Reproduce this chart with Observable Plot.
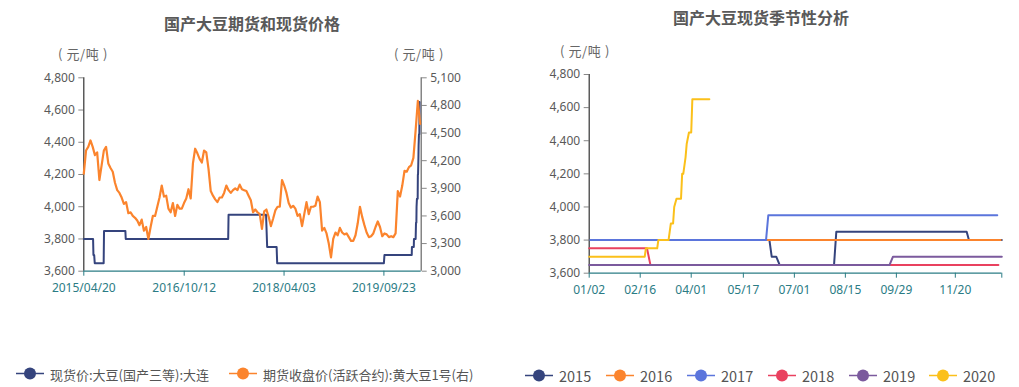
<!DOCTYPE html>
<html>
<head>
<meta charset="utf-8">
<script src="https://cdn.jsdelivr.net/npm/d3@7"></script>
<script src="https://cdn.jsdelivr.net/npm/@observablehq/plot@0.6"></script>
<style>
  body { margin: 0; background: #fff; }
  #wrap { position: relative; width: 1019px; height: 387px; overflow: hidden;
          font-family: "Noto Sans CJK SC", "Noto Sans", sans-serif; color: #595959; }
  .abs { position: absolute; white-space: nowrap; }
  .title { font-size: 16px; font-weight: bold; color: #595959; transform: translate(-50%, -50%); }
  .unit { font-size: 13px; color: #666; letter-spacing: 0.6px; transform: translateY(-50%); }
  .leg { display: flex; align-items: center; transform: translateY(-50%); color: #555; }
  .leg svg { margin-right: 6px; }
</style>
</head>
<body>
<div id="wrap"></div>
<script>
// ---------------- DATA ----------------
const leftTitle = "国产大豆期货和现货价格";
const rightTitle = "国产大豆现货季节性分析";
const unitText = "( 元/吨 )";
const spotName = "现货价:大豆(国产三等):大连";
const futuresName = "期货收盘价(活跃合约):黄大豆1号(右)";

// futures close (right axis), one reading every 12 days from 2015-04-20
const futuresStart = "2015-04-20";
const futuresStepDays = 12;
const futuresValues = [
  4060,4310,4350,4420,4350,4260,4290,3990,4150,4310,
  4350,4170,4120,4080,3960,3880,3850,3800,3730,3750,
  3630,3640,3600,3580,3550,3500,3560,3440,3480,3350,
  3480,3600,3600,3700,3800,3930,3810,3820,3680,3640,
  3740,3600,3720,3680,3680,3740,3790,3890,3790,4170,
  4330,4280,4220,4180,4310,4290,4110,3870,3820,3780,
  3750,3800,3800,3850,3930,3880,3850,3880,3900,3880,
  3940,3890,3880,3870,3820,3770,3640,3670,3640,3620,
  3460,3650,3670,3590,3490,3570,3660,3700,3700,3990,
  3930,3850,3740,3690,3710,3680,3600,3620,3490,3620,
  3750,3620,3700,3700,3710,3810,3750,3440,3470,3410,
  3300,3150,3350,3420,3390,3470,3420,3400,3410,3370,
  3330,3330,3390,3520,3700,3590,3500,3420,3370,3380,
  3410,3480,3540,3480,3380,3410,3400,3370,3380,3370,
  3410,3870,3810,3930,4090,4080,4130,4150,4230,4530,
  4850,4600
];

// spot price by year: [month-day, value]
const years = [2015, 2016, 2017, 2018, 2019, 2020];
const spot2015 = [["04-20",3800],["06-09",3800],["06-11",3700],["06-15",3700],["06-18",3650],["08-05",3650],["08-07",3850],["11-30",3850],["12-02",3800],["12-31",3800]];
const spot2016 = [["01-04",3800],["12-30",3800]];
const spot2017 = [["01-03",3800],["06-06",3800],["06-08",3950],["12-27",3950]];
const spot2018 = [["01-02",3750],["02-22",3750],["02-25",3650],["12-28",3650]];
const spot2019 = [["01-02",3650],["09-23",3650],["09-26",3700],["12-31",3700]];
const spot2020 = [["01-02",3700],["02-20",3700],["02-21",3750],["03-02",3750],["03-03",3800],["03-12",3800],["03-13",3850],["03-14",3900],["03-16",3900],["03-17",4000],["03-19",4050],["03-23",4050],["03-24",4200],["03-25",4200],["03-27",4300],["03-28",4380],["03-30",4450],["04-01",4450],["04-02",4650],["04-17",4650]];
const spotByYear = [spot2015, spot2016, spot2017, spot2018, spot2019, spot2020];
const yearColors = ["#35447d", "#fb842d", "#5b75dc", "#e9415f", "#7b5a9d", "#fbc01a"];

const leftYTicks = [3600, 3800, 4000, 4200, 4400, 4600, 4800];
const rightYTicks = [3000, 3300, 3600, 3900, 4200, 4500, 4800, 5100];
const leftXTicks = ["2015-04-20", "2016-10-12", "2018-04-03", "2019-09-23"];
const leftXEnd = "2020-04-11";
const seasonXTicks = ["01-02", "02-16", "04-01", "05-17", "07-01", "08-15", "09-29", "11-20"];
const seasonXEnd = "12-31";
const seasonYTicks = [3600, 3800, 4000, 4200, 4400, 4600, 4800];

// ---------------- BUILD ----------------
const teal = "#2b7c85";
const navy = yearColors[0];
const orange = "#fb842d";
const fmt = d3.format(",");
const U = s => new Date(s + "T00:00:00Z");
const wrap = document.getElementById("wrap");

function addDiv(cls, text, x, y) {
  const d = document.createElement("div");
  d.className = "abs " + cls;
  d.textContent = text;
  d.style.left = x + "px";
  d.style.top = y + "px";
  wrap.appendChild(d);
  return d;
}
function addLegend(x, y, color, text, fontSize) {
  const d = document.createElement("div");
  d.className = "abs leg";
  d.style.left = x + "px";
  d.style.top = y + "px";
  d.style.fontSize = fontSize + "px";
  d.innerHTML = `<svg width="28" height="14"><line x1="0" y1="7" x2="28" y2="7" stroke="${color}" stroke-width="1.5"/><circle cx="14" cy="7" r="6" fill="${color}"/></svg><span></span>`;
  d.querySelector("span").textContent = text;
  wrap.appendChild(d);
}

// dual-axis mapping: futures (right) -> left scale
const lMin = leftYTicks[0], lMax = leftYTicks[leftYTicks.length - 1];
const rMin = rightYTicks[0], rMax = rightYTicks[rightYTicks.length - 1];
const toLeft = r => lMin + (r - rMin) * (lMax - lMin) / (rMax - rMin);
const fromLeft = l => rMin + (l - lMin) * (rMax - rMin) / (lMax - lMin);

const futRows = futuresValues.map((v, i) => ({date: d3.utcDay.offset(U(futuresStart), i * futuresStepDays), value: toLeft(v)}));
const xDomainL = [U(leftXTicks[0]), U(leftXEnd)];
const spotRows = years.flatMap((y, i) => spotByYear[i].map(([md, v]) => ({date: U(`${y}-${md}`), value: v})))
  .filter(d => d.date <= xDomainL[1]);

const axisFont = {fontSize: 12, fontFamily: "'Noto Sans', 'Noto Sans CJK SC', sans-serif"};

const left = Plot.plot({
  width: 510, height: 300,
  marginLeft: 83.3, marginRight: 89.3, marginTop: 77.3, marginBottom: 29.3,
  style: {background: "transparent", overflow: "visible"},
  x: {type: "utc", domain: xDomainL},
  y: {domain: [lMin, lMax]},
  marks: [
    Plot.axisY({anchor: "left", ticks: leftYTicks, tickFormat: fmt, tickSize: 5, tickPadding: 4, stroke: "#888", fill: "#595959", label: null, ...axisFont}),
    Plot.axisY({anchor: "right", ticks: rightYTicks.map(toLeft), tickFormat: d => fmt(Math.round(fromLeft(d))), tickSize: 5, tickPadding: 4, stroke: "#888", fill: "#595959", label: null, ...axisFont}),
    Plot.axisX({ticks: leftXTicks.map(U), tickFormat: d3.utcFormat("%Y/%m/%d"), tickSize: 5, tickPadding: 7, stroke: teal, fill: teal, label: null, ...axisFont}),
    Plot.ruleX([xDomainL[0]], {stroke: "#333", strokeWidth: 1.2}),
    Plot.ruleX([xDomainL[1]], {stroke: "#666", strokeWidth: 1.2}),
    Plot.ruleY([lMin], {stroke: teal, strokeWidth: 1.2}),
    Plot.lineY(spotRows, {x: "date", y: "value", stroke: navy, strokeWidth: 2, strokeLinejoin: "round"}),
    Plot.lineY(futRows, {x: "date", y: "value", stroke: orange, strokeWidth: 2.2, strokeLinejoin: "round"})
  ]
});
left.style.position = "absolute";
left.style.left = "0px";
left.style.top = "0px";
wrap.appendChild(left);

const seasonRows = years.flatMap((y, i) => spotByYear[i].map(([md, v]) => ({year: String(y), date: U(`2020-${md}`), value: v})));
const xDomainR = [U(`2020-${seasonXTicks[0]}`), U(`2020-${seasonXEnd}`)];
const right = Plot.plot({
  width: 509, height: 300,
  marginLeft: 78.7, marginRight: 17.7, marginTop: 74, marginBottom: 27.3,
  style: {background: "transparent", overflow: "visible"},
  x: {type: "utc", domain: xDomainR},
  y: {domain: [seasonYTicks[0], seasonYTicks[seasonYTicks.length - 1]]},
  color: {domain: years.map(String), range: yearColors},
  marks: [
    Plot.axisY({ticks: seasonYTicks, tickFormat: fmt, tickSize: 5, tickPadding: 4, stroke: "#888", fill: "#595959", label: null, ...axisFont}),
    Plot.axisX({ticks: [...seasonXTicks, seasonXEnd].map(md => U(`2020-${md}`)), tickFormat: d => seasonXTicks.includes(d3.utcFormat("%m-%d")(d)) ? d3.utcFormat("%m/%d")(d) : "", tickSize: 5, tickPadding: 7, stroke: teal, fill: teal, label: null, ...axisFont}),
    Plot.ruleX([xDomainR[0]], {stroke: "#333", strokeWidth: 1.2}),
    Plot.ruleY([seasonYTicks[0]], {stroke: teal, strokeWidth: 1.2}),
    Plot.lineY(seasonRows, {x: "date", y: "value", z: "year", stroke: "year", strokeWidth: 2, strokeLinejoin: "round"})
  ]
});
right.style.position = "absolute";
right.style.left = "510px";
right.style.top = "0px";
wrap.appendChild(right);

// titles, units
addDiv("title", leftTitle, 252, 23);
addDiv("title", rightTitle, 761, 17);
addDiv("unit", unitText, 58, 53);
addDiv("unit", unitText, 394, 53);
addDiv("unit", unitText, 560, 50);

// legends
addLegend(16, 373.5, navy, spotName, 13);
addLegend(229, 373.5, orange, futuresName, 13);
const legX = [525, 606, 687, 768, 849, 929];
years.forEach((y, i) => addLegend(legX[i], 375, yearColors[i], String(y), 14.5));
</script>
</body>
</html>
